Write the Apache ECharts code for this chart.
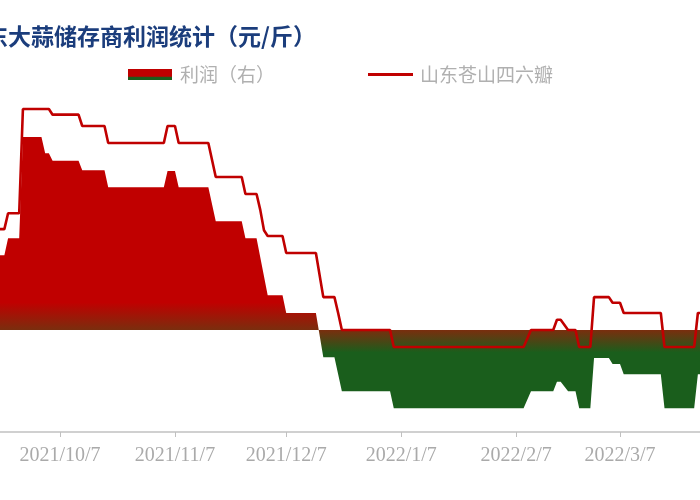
<!DOCTYPE html>
<html>
<head>
<meta charset="utf-8">
<script src="https://cdn.jsdelivr.net/npm/echarts@6/dist/echarts.min.js"></script>
<style>html,body{margin:0;padding:0;background:#fff}#c{width:700px;height:500px}</style>
</head>
<body>
<div id="c"></div>
<script>
const titleText = '山东大蒜储存商利润统计（元/斤）';
const seriesNames = ['利润（右）', '山东苍山四六瓣'];
const tickLabels = ['2021/10/7', '2021/11/7', '2021/12/7', '2022/1/7', '2022/2/7', '2022/3/7'];

// 山东苍山四六瓣 price (left axis), values at change points
const priceDates = ['2021-09-19','2021-09-22','2021-09-23','2021-09-26','2021-09-27','2021-10-04','2021-10-05','2021-10-12','2021-10-13','2021-10-19','2021-10-20','2021-11-04','2021-11-05','2021-11-07','2021-11-08','2021-11-16','2021-11-18','2021-11-25','2021-11-26','2021-11-29','2021-11-30','2021-12-01','2021-12-02','2021-12-06','2021-12-07','2021-12-15','2021-12-17','2021-12-20','2021-12-21','2021-12-22','2022-01-04','2022-01-05','2022-02-09','2022-02-11','2022-02-17','2022-02-18','2022-02-19','2022-02-21','2022-02-23','2022-02-24','2022-02-27','2022-02-28','2022-03-04','2022-03-05','2022-03-07','2022-03-08','2022-03-18','2022-03-19','2022-03-27','2022-03-28','2022-03-29'];
const priceValues = [3.58,3.58,3.86,3.86,5.70,5.70,5.60,5.60,5.40,5.40,5.10,5.10,5.40,5.40,5.10,5.10,4.50,4.50,4.20,4.20,3.92,3.56,3.46,3.46,3.16,3.16,2.38,2.38,2.10,1.80,1.80,1.50,1.50,1.80,1.80,1.98,1.98,1.80,1.80,1.50,1.50,2.38,2.38,2.28,2.28,2.10,2.10,1.50,1.50,2.10,2.10];

// 利润 (right axis), values at change points
const profitDates = ['2021-09-19','2021-09-22','2021-09-23','2021-09-26','2021-09-27','2021-10-02','2021-10-03','2021-10-04','2021-10-05','2021-10-12','2021-10-13','2021-10-19','2021-10-20','2021-11-04','2021-11-05','2021-11-07','2021-11-08','2021-11-16','2021-11-18','2021-11-25','2021-11-26','2021-11-29','2021-12-02','2021-12-06','2021-12-07','2021-12-15','2021-12-17','2021-12-20','2021-12-21','2021-12-22','2022-01-04','2022-01-05','2022-02-09','2022-02-11','2022-02-17','2022-02-18','2022-02-19','2022-02-21','2022-02-23','2022-02-24','2022-02-27','2022-02-28','2022-03-04','2022-03-05','2022-03-07','2022-03-08','2022-03-18','2022-03-19','2022-03-27','2022-03-28','2022-03-29'];
const profitValues = [1.10,1.10,1.35,1.35,2.84,2.84,2.60,2.60,2.49,2.49,2.35,2.35,2.10,2.10,2.34,2.34,2.10,2.10,1.60,1.60,1.35,1.35,0.51,0.51,0.25,0.25,-0.40,-0.40,-0.65,-0.90,-0.90,-1.15,-1.15,-0.90,-0.90,-0.76,-0.76,-0.90,-0.90,-1.15,-1.15,-0.41,-0.41,-0.50,-0.50,-0.65,-0.65,-1.15,-1.15,-0.65,-0.65];

const DAY = 86400000;
function ts(s) { const p = s.split(/[-\/]/).map(Number); return Date.UTC(p[0], p[1] - 1, p[2]); }
const base = ts('2021-10-07');
const pxPerDay = 560 / 151;
const xMin = base - (60 / pxPerDay) * DAY;
const xMax = base + ((700 - 60) / pxPerDay) * DAY;
const tickValues = tickLabels.map(ts);

const chart = echarts.init(document.getElementById('c'));
const RED = '#c00000', GREEN = '#1a5e1c';
chart.setOption({
  animation: false,
  title: {
    text: titleText, left: -43, top: 20,
    textStyle: { fontFamily: 'Noto Sans CJK SC', fontSize: 23, fontWeight: 'bold', color: '#1b3d7c' }
  },
  legend: [
    {
      left: 123, top: 60, itemWidth: 44, itemHeight: 11,
      data: [{ name: seriesNames[0], icon: 'rect', itemStyle: { color: { type: 'linear', x: 0, y: 0, x2: 0, y2: 1, colorStops: [{offset:0,color:RED},{offset:0.66,color:RED},{offset:0.72,color:'#5a3a12'},{offset:0.78,color:GREEN},{offset:1,color:GREEN}] } } }],
      textStyle: { fontFamily: 'Noto Sans CJK SC', fontSize: 19, color: '#b0b0b0', padding: [0,0,0,3] }
    },
    {
      left: 363, top: 60, itemWidth: 45, itemHeight: 3,
      data: [{ name: seriesNames[1], icon: 'rect', itemStyle: { color: RED } }],
      textStyle: { fontFamily: 'Noto Sans CJK SC', fontSize: 19, color: '#b0b0b0', padding: [0,0,0,2] }
    }
  ],
  grid: { left: 0, right: 0, top: 92, bottom: 68, containLabel: false },
  xAxis: {
    type: 'value', min: xMin, max: xMax,
    axisLine: { lineStyle: { color: '#c0c0c0', width: 1.5 } },
    axisTick: { show: true, customValues: tickValues, length: 5, lineStyle: { color: '#c0c0c0' } },
    axisLabel: {
      customValues: tickValues, margin: 14,
      fontFamily: 'Liberation Serif', fontSize: 20, color: '#aaaaaa',
      formatter: v => { const d = new Date(v); return d.getUTCFullYear() + '/' + (d.getUTCMonth() + 1) + '/' + d.getUTCDate(); }
    },
    splitLine: { show: false }
  },
  yAxis: [
    { type: 'value', min: 0, max: 6, show: false, splitLine: { show: false } },
    { type: 'value', min: -1.5, max: 3.5, show: false, splitLine: { show: false } }
  ],
  series: [
    {
      name: seriesNames[0], type: 'line', yAxisIndex: 1, symbol: 'none', z: 1,
      data: profitDates.map((d, i) => [ts(d), profitValues[i]]),
      lineStyle: { width: 0 },
      itemStyle: { color: RED },
      areaStyle: {
        opacity: 1,
        color: { type: 'linear', global: true, x: 0, y: 0, x2: 0, y2: 500,
          colorStops: [{offset:0,color:RED},{offset:0.605,color:RED},{offset:0.66,color:'#7a2e0e'},{offset:0.705,color:GREEN},{offset:1,color:GREEN}] }
      }
    },
    {
      name: seriesNames[1], type: 'line', yAxisIndex: 0, symbol: 'none', z: 3,
      data: priceDates.map((d, i) => [ts(d), priceValues[i]]),
      lineStyle: { width: 2.6, color: RED },
      itemStyle: { color: RED }
    }
  ]
});
</script>
</body>
</html>
